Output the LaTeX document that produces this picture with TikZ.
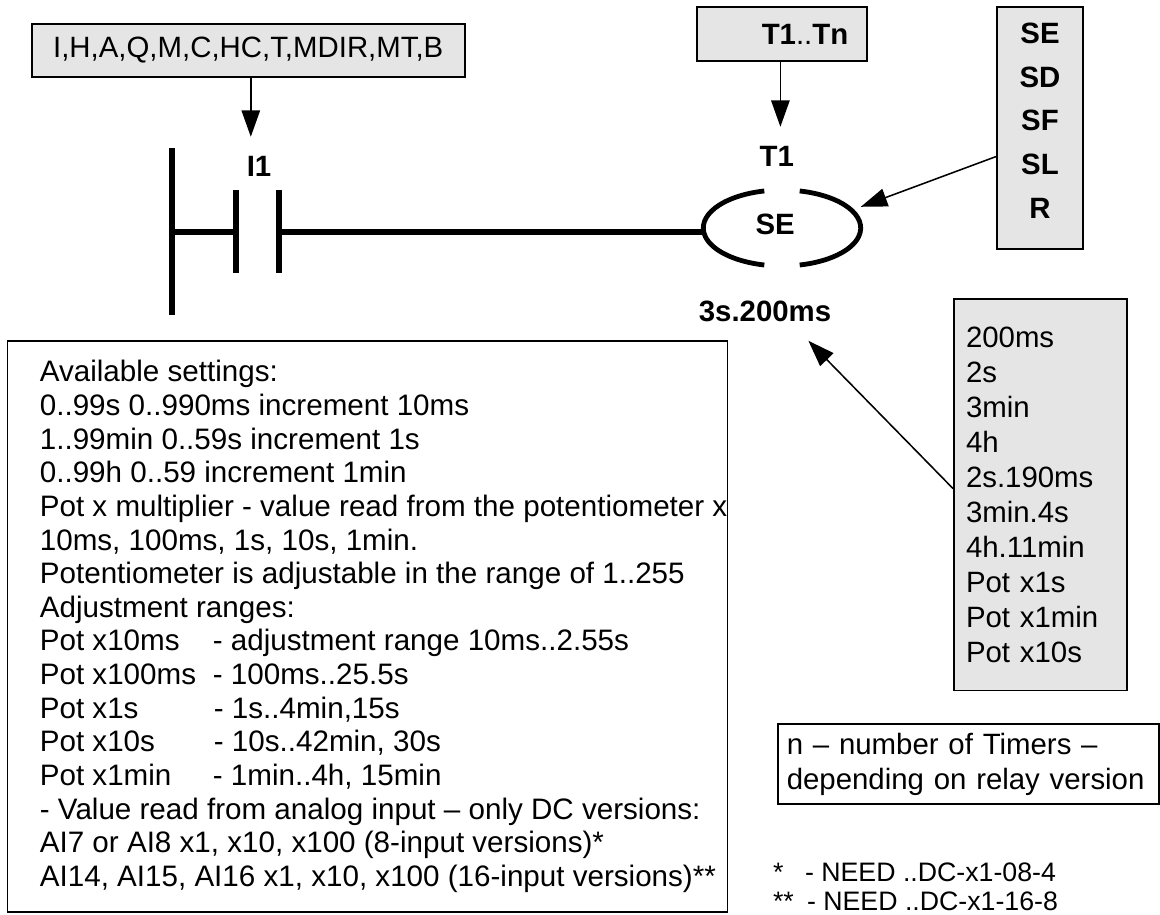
\documentclass[tikz,border=0pt]{standalone}
\usepackage{fontspec}
\setmainfont{Liberation Sans}
\usetikzlibrary{arrows.meta,positioning,calc,shapes.geometric}
\definecolor{boxgray}{RGB}{229,229,229}
\newcommand{\tabrow}[3]{\makebox[#1][l]{#2}#3}
\newcommand{\txtbig}{\fontsize{20.9}{24.9}\selectfont}
\newcommand{\txtmain}{\fontsize{21.05}{23.94}\selectfont}
\newcommand{\txtnote}{\fontsize{19}{20.6}\selectfont}
\tikzset{
    graybox/.style={rectangle, draw=black, fill=boxgray, line width=1.2pt, inner sep=0pt,
                    align=center, font=\txtbig},
    notebox/.style={rectangle, draw=black, line width=1.2pt, inner sep=0pt},
    arr/.style={-{Triangle[length=0.66cm,width=0.46cm]}, line width=1.1pt},
    wire/.style={line width=0.15cm},
    coilarc/.style={line width=0.12cm},
    bar/.style={rectangle, fill=black, inner sep=0pt, outer sep=0pt, minimum width=0.15cm},
    lbl/.style={font=\txtbig\bfseries, inner sep=0pt},
}

\begin{document}
\begin{tikzpicture}
    \useasboundingbox (0,0) rectangle (29,-22.875);
    % Source boxes
    \node[graybox, minimum width=10.825cm, minimum height=1.325cm] (opbox) at (6.205,-1.2625) {I,H,A,Q,M,C,HC,T,MDIR,MT,B};
    \node[graybox, minimum width=4.24cm, minimum height=1.36cm, font=\txtbig\bfseries] (tbox) at (19.55,-0.85)
        {\hspace*{1.15cm}T1{\mdseries ..}Tn};
    \node[graybox, minimum width=2.16cm, minimum height=6.06cm, font=\txtbig\bfseries] (modebox) at (26.0,-3.2)
        {\begin{tabular}{@{}c@{}}SE\\[0.22cm]SD\\[0.22cm]SF\\[0.22cm]SL\\[0.22cm]R\\[0.2cm]\end{tabular}};
    \node[graybox, minimum width=4.32cm, minimum height=9.79cm, text width=3.72cm, align=left] (timebox) at (26.01,-12.37)
        {200ms\\2s\\3min\\4h\\2s.190ms\\3min.4s\\4h.11min\\Pot x1s\\Pot x1min\\Pot x10s};

    % Ladder rung
    \node[bar, minimum height=4.175cm]            (rail) at (4.29,-5.79) {};
    \node[bar, minimum height=2.075cm, right=1.45cm of rail]  (cl) {};
    \node[bar, minimum height=2.075cm, right=0.935cm of cl]   (cr) {};
    \node[lbl] (i1) at (6.475,-4.15) {I1};
    \node[ellipse, minimum width=3.935cm, minimum height=1.9cm, inner sep=0pt, outer sep=0pt] (coil) at (19.55,-5.7) {};
    \node[lbl] (coilse) at (19.38,-5.6) {SE};
    \node[lbl] (t1) at (19.42,-3.92) {T1};
    \node[lbl] (delay) at (19.125,-7.79) {3s.200ms};

    \draw[wire] (rail) -- (cl);
    \draw[wire] (cr) -- (coil.west |- cr);
    \draw[coilarc] ($(coil)+(77:1.9675cm and 0.95cm)$) arc[start angle=77, end angle=-77, x radius=1.9675cm, y radius=0.95cm];
    \draw[coilarc] ($(coil)+(103:1.9675cm and 0.95cm)$) arc[start angle=103, end angle=257, x radius=1.9675cm, y radius=0.95cm];

    % Arrows
    \coordinate (i1pin) at (6.27,-3.42);
    \coordinate (t1pin) at (19.51,-3.17);
    \coordinate (coilpin) at (21.52,-5.17);
    \coordinate (delaypin) at (20.21,-8.52);
    \draw[arr] (opbox.south -| i1pin) -- (i1pin);
    \draw[arr] (tbox.south -| t1pin) -- (t1pin);
    \draw[arr] (modebox.213.9) -- (coilpin);
    \draw[arr] (timebox.176.8) -- (delaypin);

    % Notes
    \node[notebox, minimum width=18cm, minimum height=14.275cm] (setbox) at (9.19,-15.655) {};
    \node[anchor=north west, inner sep=0pt, align=left, font=\txtmain] (settxt) at (0.99,-9.0)
        {Available settings:\\
         0..99s 0..990ms increment 10ms\\
         1..99min 0..59s increment 1s\\
         0..99h 0..59 increment 1min\\
         Pot x multiplier - value read from the potentiometer x\\
         10ms, 100ms, 1s, 10s, 1min.\\
         Potentiometer is adjustable in the range of 1..255\\
         Adjustment ranges:\\
         \tabrow{4.325cm}{Pot x10ms}{- adjustment range 10ms..2.55s}\\
         \tabrow{4.325cm}{Pot x100ms}{- 100ms..25.5s}\\
         \tabrow{4.35cm}{Pot x1s}{- 1s..4min,15s}\\
         \tabrow{4.35cm}{Pot x10s}{- 10s..42min, 30s}\\
         \tabrow{4.325cm}{Pot x1min}{- 1min..4h, 15min}\\
         - Value read from analog input – only DC versions:\\
         AI7 or AI8 x1, x10, x100 (8-input versions)*\\
         AI14, AI15, AI16 x1, x10, x100 (16-input versions)**};
    \node[notebox, minimum width=9.53cm, minimum height=2cm, text width=9.08cm, align=left, font=\txtbig] (nbox) at (24.21,-19.1)
        {n – number of Timers –\\depending on relay version};
    \node[anchor=west, inner sep=0pt, align=left, font=\txtnote] (needs) at (19.32,-22.17)
        {\tabrow{0.8cm}{*}{- NEED ..DC-x1-08-4}\\\tabrow{0.85cm}{**}{- NEED ..DC-x1-16-8}};
\end{tikzpicture}
\end{document}
